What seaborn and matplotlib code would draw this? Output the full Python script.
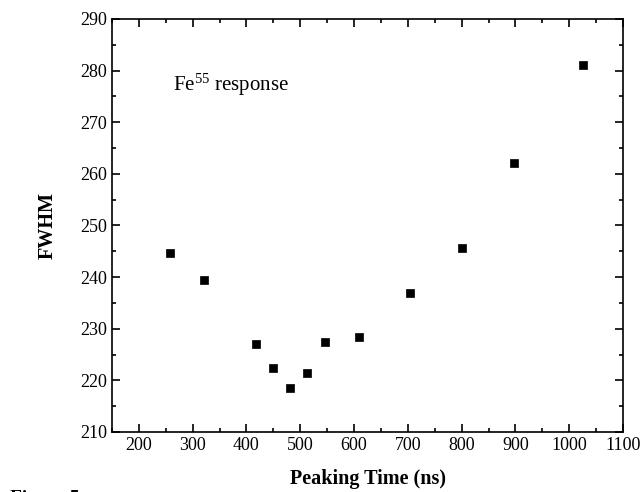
import matplotlib
matplotlib.use('Agg')
import matplotlib.pyplot as plt
from matplotlib.ticker import MultipleLocator
import pandas as pd
import seaborn as sns

# peaking time (ns) vs FWHM
peaking_time = [258, 321, 418, 449, 481, 512, 546, 609, 704, 801, 897, 1025]
fwhm = [244.7, 239.4, 227.0, 222.4, 218.6, 221.4, 227.4, 228.4, 236.9, 245.6, 262.1, 281.0]

df = pd.DataFrame({'Peaking Time (ns)': peaking_time, 'FWHM': fwhm})

sns.set_style('ticks')
plt.rcParams['font.family'] = ['Liberation Serif', 'DejaVu Serif']
plt.rcParams['mathtext.default'] = 'regular'
plt.rcParams['text.color'] = 'black'
plt.rcParams['axes.labelcolor'] = 'black'
plt.rcParams['xtick.color'] = 'black'
plt.rcParams['ytick.color'] = 'black'

fig = plt.figure(figsize=(6.41, 4.92), dpi=100)
ax = fig.add_axes([0.1747, 0.122, 0.7973, 0.8394])

sns.scatterplot(data=df, x='Peaking Time (ns)', y='FWHM', marker='s', s=38,
                color='black', edgecolor='black', linewidth=0.5, ax=ax)

ax.set_xlim(150, 1100)
ax.set_ylim(210, 290)
ax.xaxis.set_major_locator(MultipleLocator(100))
ax.xaxis.set_minor_locator(MultipleLocator(50))
ax.yaxis.set_major_locator(MultipleLocator(10))
ax.yaxis.set_minor_locator(MultipleLocator(5))
ax.tick_params(which='both', top=True, right=True, direction='in',
               width=1.2, labelsize=13, colors='black')
ax.tick_params(which='major', length=6)
ax.tick_params(which='minor', length=3)
for s in ax.spines.values():
    s.set_visible(True)
    s.set_linewidth(1.2)
    s.set_color('black')

ax.set_xlabel('Peaking Time (ns)', fontsize=14.5, fontweight='bold', labelpad=11)
ax.set_ylabel('FWHM', fontsize=14.5, fontweight='bold', labelpad=16)

ax.text(263, 276, 'Fe$^{55}$ response', fontsize=15)

fig.text(0.015, 0.004, 'Figure 5', fontsize=14, fontweight='bold', va='top')

fig.savefig('out.png', dpi=100)
